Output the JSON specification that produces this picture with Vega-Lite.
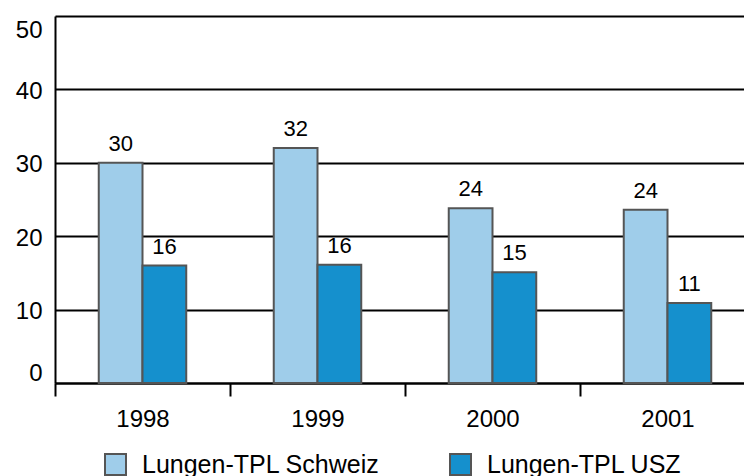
{
  "$schema": "https://vega.github.io/schema/vega-lite/v6.json",
  "width": 689,
  "height": 367,
  "autosize": {"type": "none"},
  "padding": {"left": 55, "top": 16, "right": 0, "bottom": 93},
  "background": "white",
  "config": {
    "view": {"stroke": null},
    "font": "Liberation Sans",
    "text": {"font": "Liberation Sans"}
  },
  "data": {
    "values": [
      {"year": "1998", "series": "Lungen-TPL Schweiz", "value": 30},
      {"year": "1998", "series": "Lungen-TPL USZ", "value": 16},
      {"year": "1999", "series": "Lungen-TPL Schweiz", "value": 32},
      {"year": "1999", "series": "Lungen-TPL USZ", "value": 16.1},
      {"year": "2000", "series": "Lungen-TPL Schweiz", "value": 23.8},
      {"year": "2000", "series": "Lungen-TPL USZ", "value": 15.1},
      {"year": "2001", "series": "Lungen-TPL Schweiz", "value": 23.6},
      {"year": "2001", "series": "Lungen-TPL USZ", "value": 10.9}
    ]
  },
  "encoding": {
    "x": {
      "field": "year",
      "type": "nominal",
      "scale": {"range": [0, 700], "paddingInner": 0, "paddingOuter": 0},
      "axis": {
        "title": null,
        "labelAngle": 0,
        "labelFontSize": 24,
        "labelColor": "#000",
        "labelPadding": 11,
        "tickBand": "extent",
        "tickSize": 13,
        "tickColor": "#000",
        "tickWidth": 2,
        "domainColor": "#000",
        "domainWidth": 2,
        "grid": false
      }
    },
    "xOffset": {
      "field": "series",
      "type": "nominal",
      "scale": {"paddingInner": 0, "paddingOuter": 1.06}
    },
    "y": {
      "field": "value",
      "type": "quantitative",
      "scale": {"domain": [0, 50], "nice": false},
      "axis": {
        "title": null,
        "values": [0, 10, 20, 30, 40, 50],
        "labelFontSize": 24,
        "labelColor": "#000",
        "labelPadding": 13,
        "labelFlush": true,
        "labelOffset": 2,
        "ticks": false,
        "grid": true,
        "gridColor": "#000",
        "gridWidth": 2,
        "gridOpacity": 1,
        "domainColor": "#000",
        "domainWidth": 2
      }
    }
  },
  "layer": [
    {
      "mark": {"type": "bar", "stroke": "#555555", "strokeWidth": 2, "opacity": 1},
      "encoding": {
        "color": {
          "field": "series",
          "type": "nominal",
          "scale": {
            "domain": ["Lungen-TPL Schweiz", "Lungen-TPL USZ"],
            "range": ["#9FCDEA", "#1590CD"]
          },
          "legend": {
            "title": null,
            "orient": "none",
            "legendX": 48,
            "legendY": 436,
            "direction": "horizontal",
            "symbolType": "square",
            "symbolSize": 441,
            "symbolStrokeColor": "#555555",
            "symbolStrokeWidth": 2,
            "symbolOpacity": 1,
            "labelFontSize": 25,
            "labelColor": "#000",
            "labelOffset": 14,
            "columnPadding": 66,
            "padding": 0,
            "labelLimit": 400
          }
        }
      }
    },
    {
      "mark": {"type": "text", "baseline": "bottom", "dy": -7, "fontSize": 22, "color": "#000"},
      "encoding": {
        "text": {"field": "value", "type": "quantitative", "format": ".0f"}
      }
    }
  ]
}
